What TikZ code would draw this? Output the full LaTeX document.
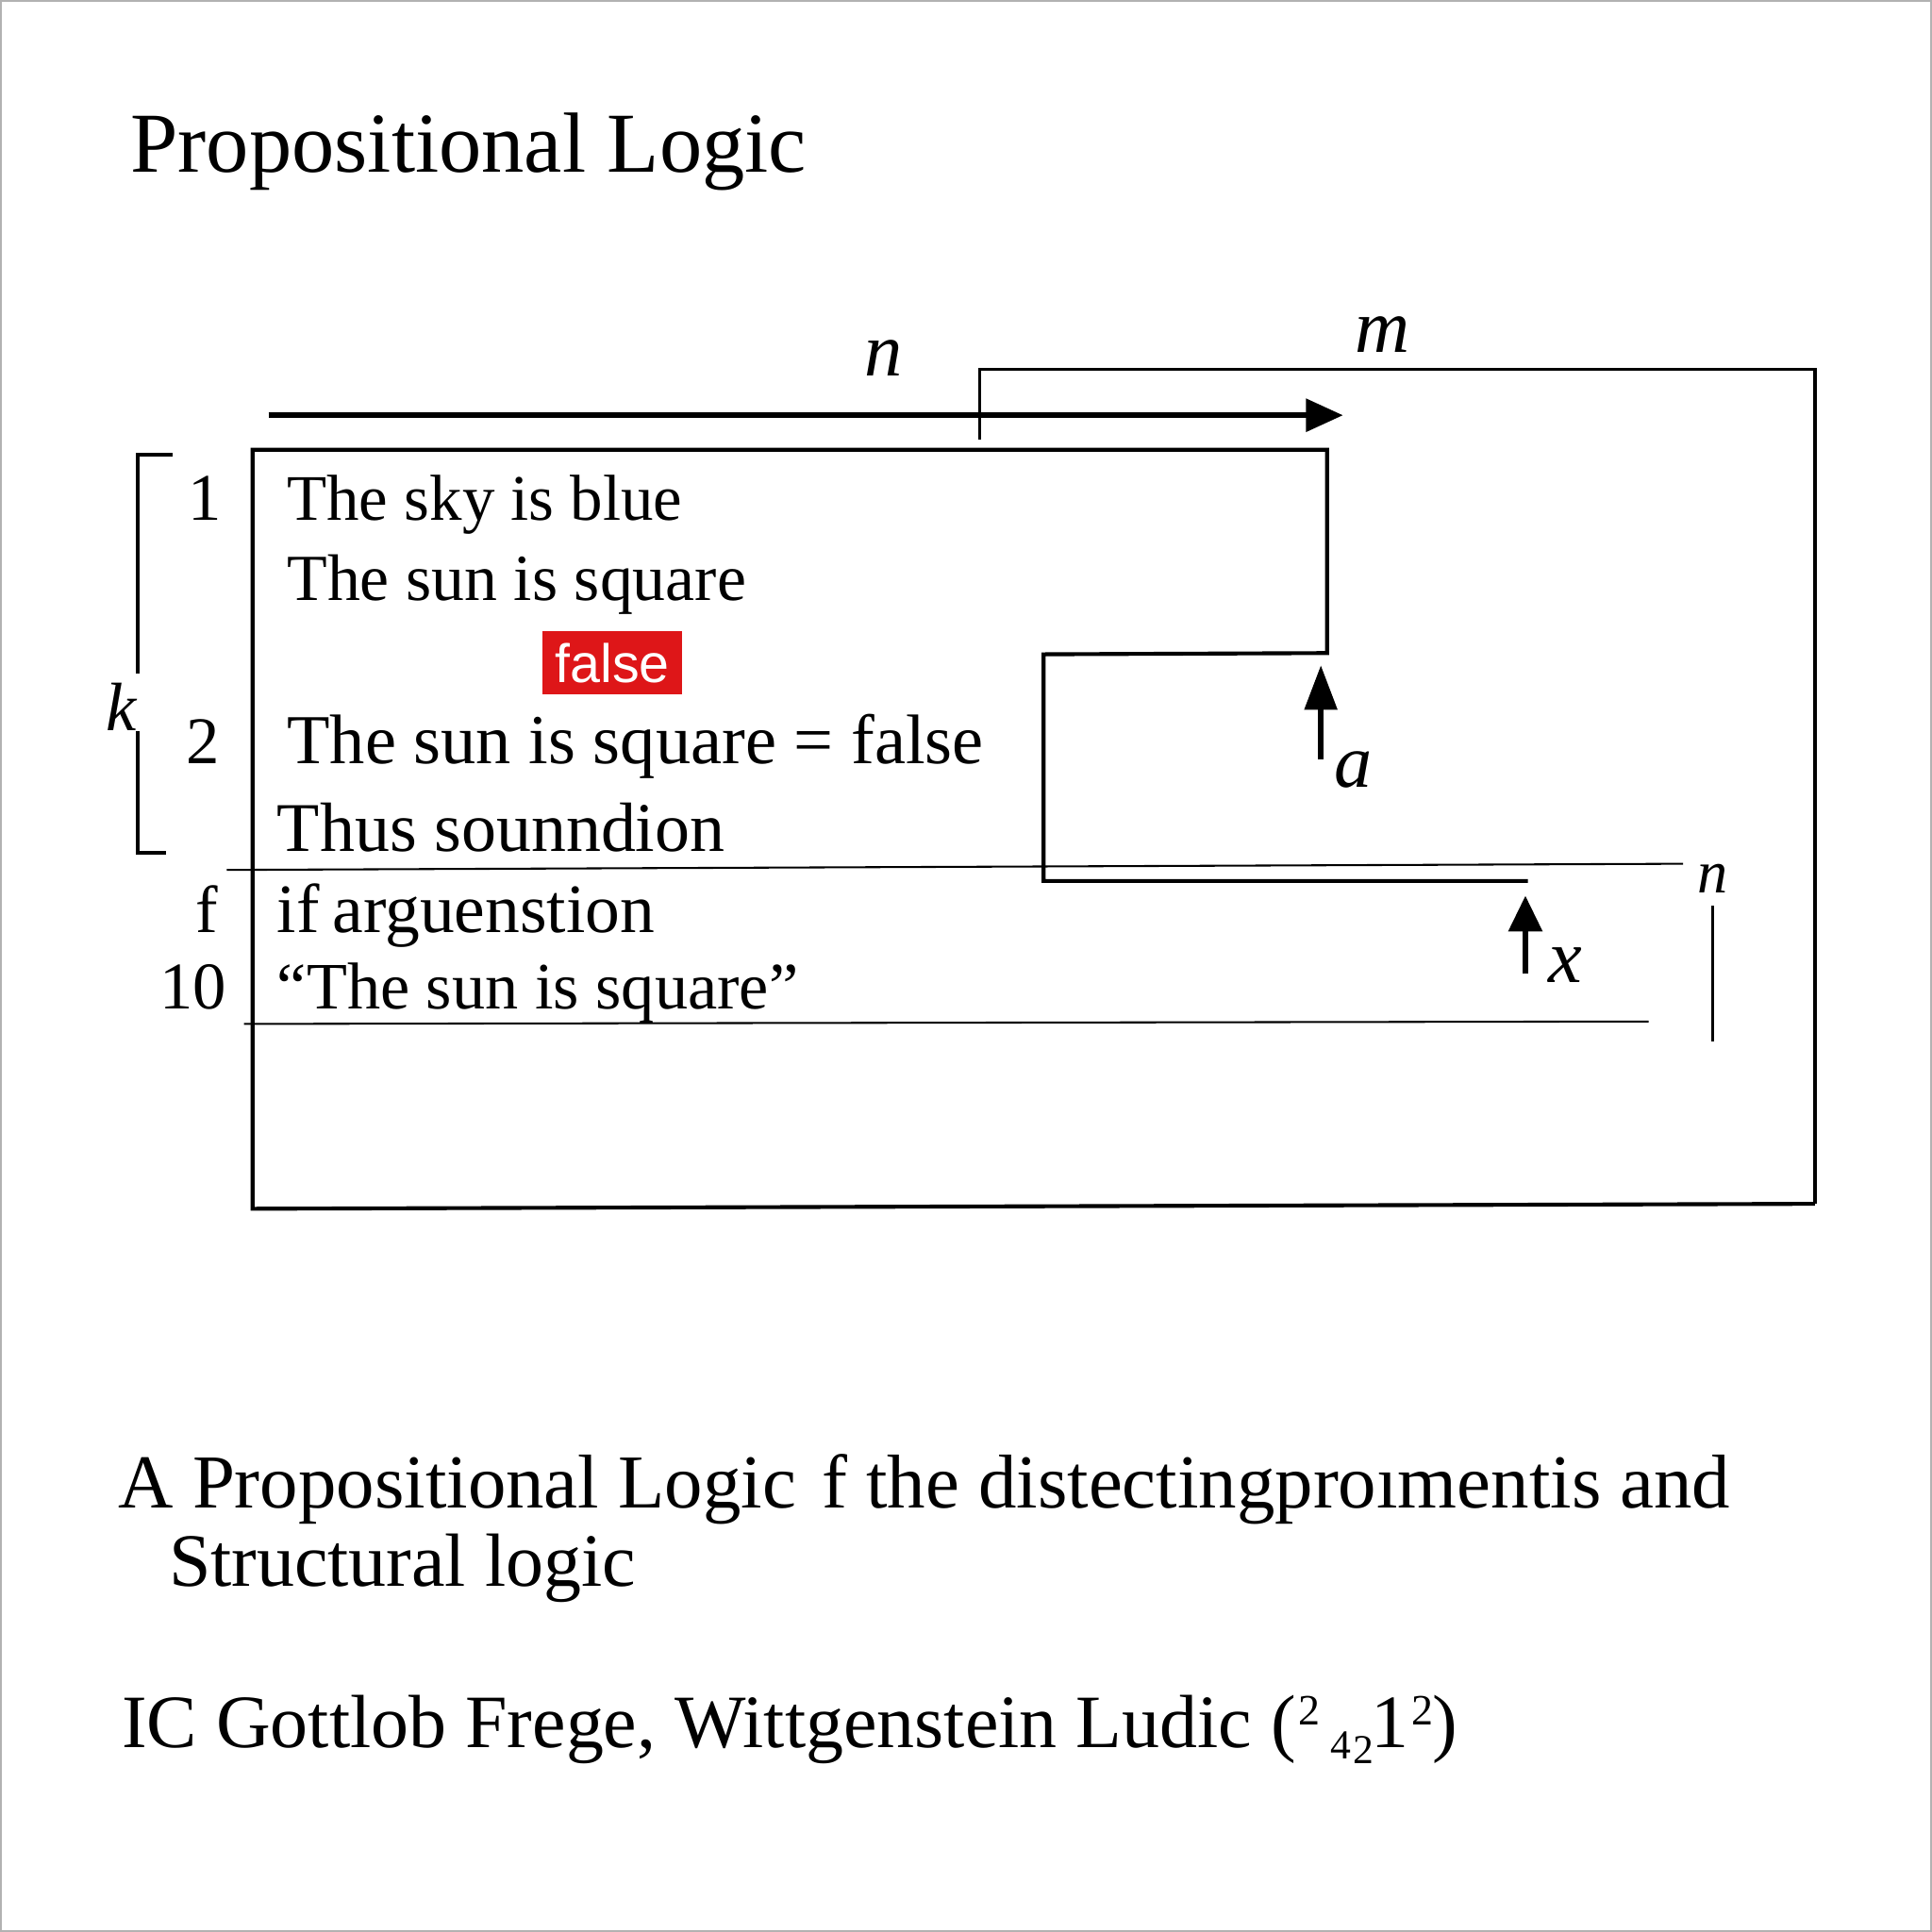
\documentclass[tikz,border=0pt]{standalone}
\usepackage{fontspec}
\setmainfont{Liberation Serif}
\newfontfamily\falsefont{Liberation Sans}
\usepackage{tikz}
\usetikzlibrary{arrows.meta,positioning}
\definecolor{falsered}{RGB}{222,22,24}

\newcommand{\sz}[1]{\fontsize{#1}{#1}\selectfont}
\newcommand{\dig}[3]{\raisebox{#2}{\fontsize{#1}{#1}\selectfont #3}}

\begin{document}
\begin{tikzpicture}[x=0.01cm, y=-0.01cm, >={Triangle[length=3mm,width=2.6mm]}, semithick]

\tikzstyle{line}=[inner sep=0pt, anchor=base west, font=\sz{15.4}]
\tikzstyle{num}=[inner sep=0pt, anchor=base, font=\sz{15.4}]
\tikzstyle{var}=[inner sep=0pt, anchor=base west, font=\sz{17.5}\itshape]
\tikzstyle{caption}=[inner sep=0pt, anchor=base west, font=\sz{17.6}]
\tikzstyle{heavy}=[line width=0.9pt]
\tikzstyle{hair}=[line width=0.45pt]

\useasboundingbox (0,0) rectangle (1568,1568);
\draw[gray!60, line width=0.5pt] (1,1) rectangle (1567,1567);

\node[inner sep=0pt, anchor=base west, font=\sz{19.7}] (title) at (105,140) {Propositional Logic};

% rows of the proof
\node[num] (n1) at (166,422) {1};
\node[line, font=\sz{15}] (l1) at (232,422) {The sky is blue};
\node[line, font=\sz{15.2}] (l2) at (232,487) {The sun is square};
\node[fill=falsered, text=white, font=\falsefont\sz{12.5}, minimum width=1.13cm,
      minimum height=0.516cm, inner sep=0pt] (false) at (497,538) {false};
\node[num] (n2) at (165,620) {2};
\node[line, font=\sz{16.2}] (l3) at (232,620) {The sun is square = false};
\node[line, font=\sz{16.1}] (l4) at (224,691) {Thus sounndion};
\node[num] (nf) at (168,757) {f};
\node[line, font=\sz{16}] (l5) at (224,757) {if\hspace{-1pt} arguenstion};
\node[num, anchor=base east] (n10) at (185,819) {10};
\node[line, font=\sz{15.3}] (l6) at (224,819) {“The sun is square”};

% letters
\node[var] (topn) at (701,305) {n};
\node[var] (topm) at (1099,286) {m};
\node[var] (lbla) at (1082,639) {a};
\node[var] (lblx) at (1256,797) {x};
\node[var, font=\sz{14}\itshape] (sidn) at (1377,725) {n};
\node[var, font=\sz{15.8}\itshape] (lblk) at (85,593) {k};

% frame
\coordinate (arrS) at (218,337);
\coordinate (arrE) at (1090,337);
\draw[->, line width=1.3pt] (arrS) -- (arrE);
\draw[heavy] (1240,715) -- (847,715) -- (847,531) -- (1077,530) -- (1077,365)
   -- (205,365) -- (205,981) -- (1473,977);
\draw[line width=0.7pt] (1473,977) -- (1473,300) -- (795,300) -- (795,357);

\coordinate (stepA) at (1072,540);
\coordinate (tailA) at (1072,616);
\coordinate (stepX) at (1238,727);
\coordinate (tailX) at (1238,790);
\draw[->, line width=1.2pt, >={Triangle[length=3.6mm,width=2.6mm]}] (tailA) -- (stepA);
\draw[->, line width=1.2pt, >={Triangle[length=2.9mm,width=2.7mm]}] (tailX) -- (stepX);

% bracket k
\draw[heavy] (140,369) -- (112,369) -- (112,547);
\draw[heavy] (112,593) -- (112,692) -- (135,692);

\draw[hair] (184,706) -- (1366,701);
\draw[hair] (198,831) -- (1338,829);
\draw[line width=0.6pt] (1390,735) -- (1390,845);

\node[caption] (cap1) at (95,1224) {A Propositional Logic\hspace{1.5pt} f the distectingproımentis and};
\node[caption, font=\sz{17.4}] (cap2) at (136,1287) {Structural logic};
\node[caption, font=\sz{17.4}] (cap3) at (98,1418) {IC Gottlob Frege, Wittgenstein Ludic (\kern0.6pt\dig{10}{5.2pt}{2}\kern2.4pt\dig{9.5}{-2.6pt}{4}\kern0.6pt\dig{9.5}{-3.7pt}{2}\kern-0.6pt 1\kern0.6pt\dig{10}{5.2pt}{2}\kern-0.2pt)};

\end{tikzpicture}
\end{document}
